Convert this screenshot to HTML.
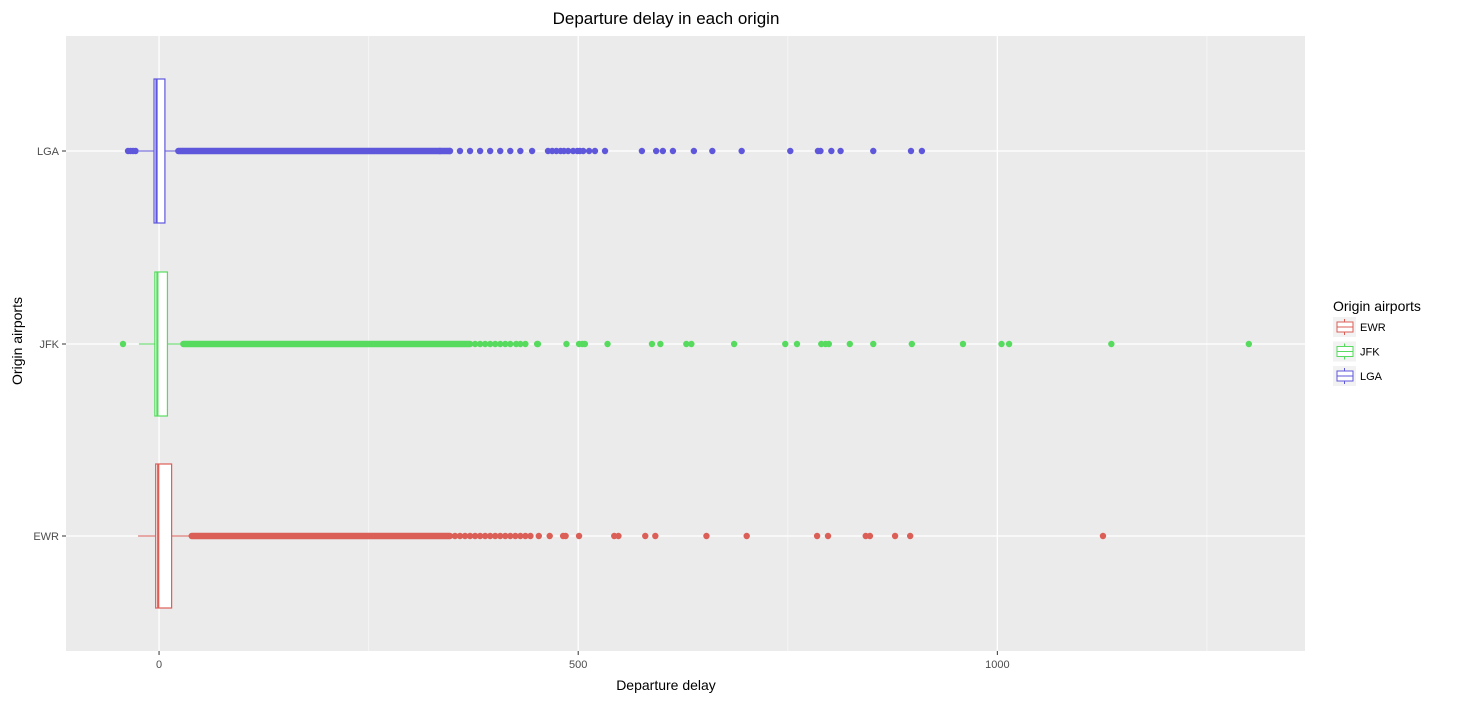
<!DOCTYPE html>
<html><head><meta charset="utf-8"><style>
body{margin:0;background:#fff;}
svg{display:block;font-family:"Liberation Sans","DejaVu Sans",sans-serif;}
</style></head><body>
<svg id="chart" width="1470" height="703" viewBox="0 0 1470 703"></svg>
<script>
const categories=["EWR","JFK","LGA"];
const colors=["#db5f57","#57db5f","#5f57db"];
const q1=[-4,-5,-6];
const median=[-1,-2,-3];
const q3=[15,10,7];
const whiskerLow=[-25,-24,-24];
const whiskerHigh=[39,29,23];
const denseStart=[39,29,23];
const denseEnd=[347,371,347];
const lowOutliersEWR=[];
const lowOutliersJFK=[-43];
const lowOutliersLGA=[-37,-34,-31,-28];
const outEWR=[353,359,365,371,377,383,389,395,401,407,413,419,425,431,437,443,453,466,482,485,501,543,548,580,592,653,701,785,798,843,848,878,896,1126];
const outJFK=[377,383,389,395,401,407,413,419,426,431,437,451,452,486,501,505,508,535,588,598,629,635,686,747,761,790,795,799,824,852,898,959,1005,1014,1136,1300];
const outLGA=[335,347,359,371,383,395,407,419,431,445,464,469,474,479,483,488,494,499,502,506,513,520,532,576,593,601,613,638,660,695,753,786,789,802,813,852,897,910];
const xTicks=[0,500,1000];
const xMinor=[250,750,1250];

const svg=document.getElementById('chart');
const NS='http://www.w3.org/2000/svg';
const L=66,R=1305,T=36,B=651;
const xMin=-111,xMax=1367;
const xs=v=>L+(v-xMin)/(xMax-xMin)*(R-L);
const rowY=[536,344,151];
const ys=i=>rowY[i];
function mk(tag,attrs,parent){const e=document.createElementNS(NS,tag);for(const k in attrs)e.setAttribute(k,attrs[k]);(parent||svg).appendChild(e);return e;}

const bg=mk('rect',{x:L,y:T,width:R-L,height:B-T,fill:'#ebebeb'});


xMinor.forEach(v=>{const l=mk('line',{x1:xs(v),x2:xs(v),y1:T,y2:B,stroke:'#f5f5f5','stroke-width':1});

});
xTicks.forEach(v=>{const l=mk('line',{x1:xs(v),x2:xs(v),y1:T,y2:B,stroke:'#fff','stroke-width':1.3});


const t=mk('text',{x:xs(v),y:668,'text-anchor':'middle','font-size':11,fill:'#4d4d4d'});t.textContent=v;


mk('line',{x1:xs(v),x2:xs(v),y1:B,y2:B+4,stroke:'#333'});});
categories.forEach((c,i)=>{const y=ys(i);
const l=mk('line',{x1:L,x2:R,y1:y,y2:y,stroke:'#fff','stroke-width':1.3});


mk('line',{x1:L-4,x2:L,y1:y,y2:y,stroke:'#333'});
const t=mk('text',{x:L-7,y:y+4,'text-anchor':'end','font-size':11,fill:'#4d4d4d'});t.textContent=c;

});

const outs=[outEWR,outJFK,outLGA];const lows=[lowOutliersEWR,lowOutliersJFK,lowOutliersLGA];
categories.forEach((c,i)=>{const y=ys(i),col=colors[i];
const g=mk('g',{});


mk('line',{x1:xs(whiskerLow[i]),x2:xs(q1[i]),y1:y,y2:y,stroke:col,'stroke-width':1},g);
mk('line',{x1:xs(q3[i]),x2:xs(whiskerHigh[i]),y1:y,y2:y,stroke:col,'stroke-width':1},g);
mk('rect',{x:xs(q1[i]),y:y-72,width:xs(q3[i])-xs(q1[i]),height:144,fill:'#fff',stroke:col,'stroke-width':1.2},g);
mk('line',{x1:xs(median[i]),x2:xs(median[i]),y1:y-72,y2:y+72,stroke:col,'stroke-width':2.2},g);
const d=mk('line',{x1:xs(denseStart[i]),x2:xs(denseEnd[i]),y1:y,y2:y,stroke:col,'stroke-width':6.5,'stroke-linecap':'round'});


outs[i].concat(lows[i]).forEach(v=>{const p=mk('circle',{cx:xs(v),cy:y,r:3.2,fill:col});

});});

function txt(s,a,name){const t=mk('text',a);t.textContent=s;return t;}
txt('Departure delay in each origin',{x:666,y:24,'text-anchor':'middle','font-size':17,fill:'#000'},'chart-title');
txt('Departure delay',{x:666,y:690,'text-anchor':'middle','font-size':14,fill:'#000'},'x-axis-title');
txt('Origin airports',{x:22,y:341,'text-anchor':'middle','font-size':14,fill:'#000',transform:'rotate(-90 22 341)'},'y-axis-title');
txt('Origin airports',{x:1333,y:311,'font-size':14,fill:'#000'},'legend-title');
categories.forEach((c,i)=>{const y=317+i*24.5;
const g=mk('g',{});


mk('rect',{x:1333,y:y,width:23,height:20,fill:'#f2f2f2'},g);
mk('line',{x1:1344.5,x2:1344.5,y1:y+2,y2:y+18,stroke:colors[i]},g);
mk('rect',{x:1337,y:y+5,width:16,height:10,fill:'#fff',stroke:colors[i]},g);
mk('line',{x1:1337,x2:1353,y1:y+10,y2:y+10,stroke:colors[i]},g);
const t=mk('text',{x:1360,y:y+14,'font-size':11,fill:'#000'},g);t.textContent=c;});
</script>
</body></html>
